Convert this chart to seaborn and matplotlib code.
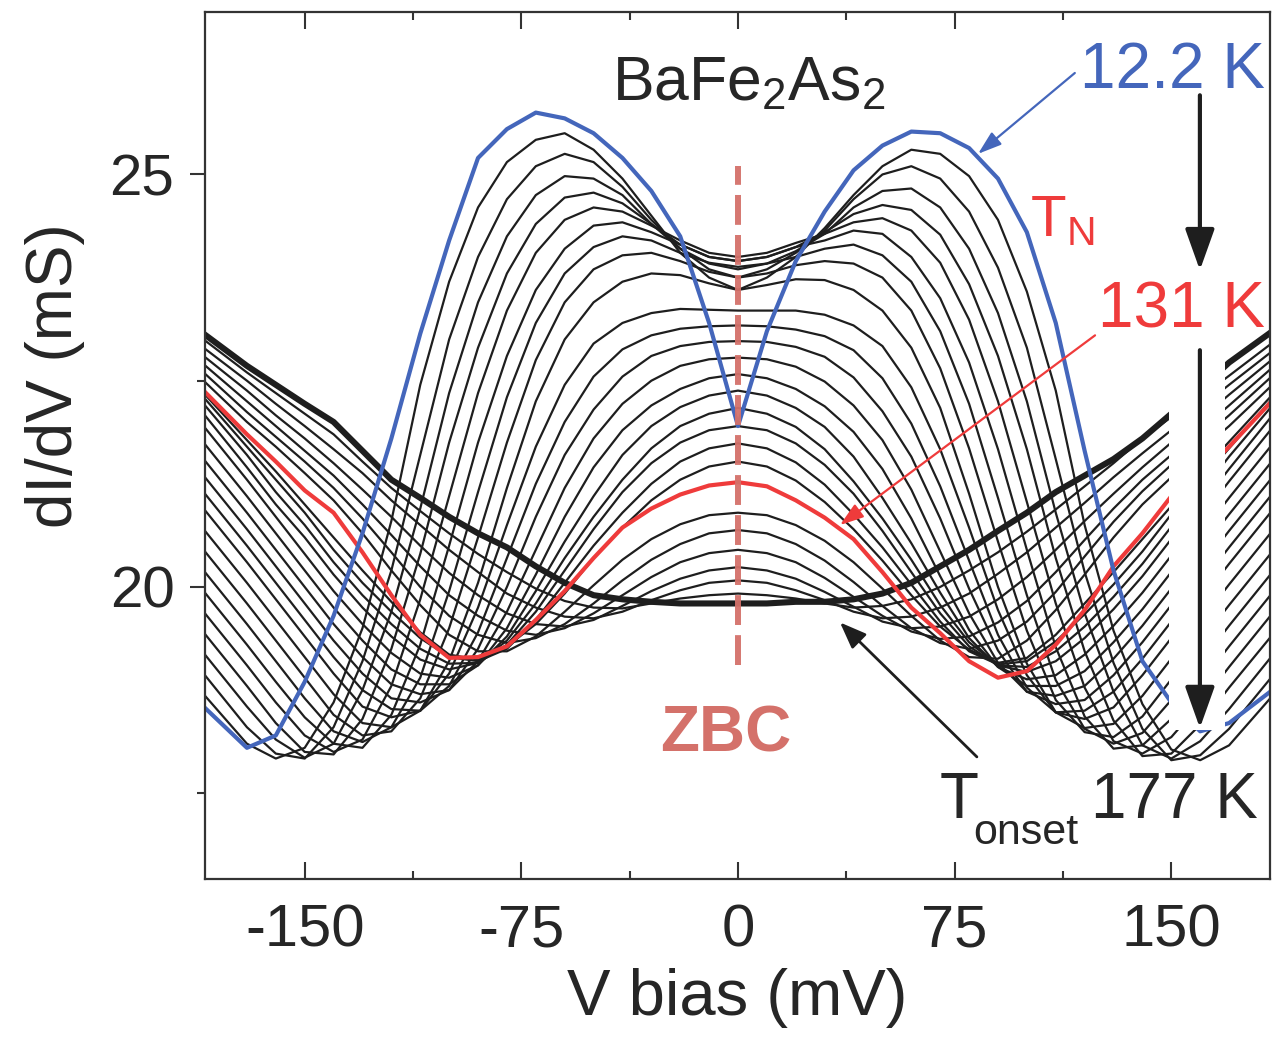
import matplotlib
matplotlib.use("Agg")
import matplotlib.pyplot as plt
import seaborn as sns
from matplotlib.patches import Rectangle

# ---------------- data ----------------
V_MV = [-185, -170, -160, -150, -140, -130, -120, -110, -100, -90, -80, -70, -60, -50, -40, -30, -20, -10,
        0, 10, 20, 30, 40, 50, 60, 70, 80, 90, 100, 110, 120, 130, 140, 150, 160, 170, 185]

blue_12K = [18.55, 18.05, 18.2, 18.85, 19.65, 20.65, 21.8, 23.07, 24.2, 25.2, 25.55, 25.75, 25.68, 25.5, 25.2, 24.8, 24.25, 23.2,
            21.95, 23.1, 23.95, 24.55, 25.05, 25.35, 25.52, 25.5, 25.32, 24.95, 24.3, 23.2, 21.65, 20.2, 19.1, 18.6, 18.25, 18.35, 18.75]

red_131K = [22.38, 21.85, 21.52, 21.17, 20.9, 20.42, 19.9, 19.42, 19.14, 19.15, 19.28, 19.6, 19.95, 20.35, 20.72, 20.95, 21.12, 21.23,
            21.27, 21.22, 21.05, 20.84, 20.58, 20.18, 19.75, 19.44, 19.1, 18.9, 18.98, 19.3, 19.72, 20.25, 20.65, 21.1, 21.35, 21.7, 22.26]

onset_177K = [23.07, 22.68, 22.45, 22.22, 22.0, 21.65, 21.3, 21.08, 20.85, 20.65, 20.48, 20.25, 20.05, 19.9, 19.85, 19.82, 19.8, 19.8,
              19.8, 19.8, 19.82, 19.82, 19.85, 19.92, 20.05, 20.25, 20.45, 20.68, 20.9, 21.15, 21.35, 21.55, 21.8, 22.1, 22.4, 22.72, 23.1]

# black curves between 12.2 K and 131 K
k01 = [18.7, 18.1, 17.92, 18.05, 18.6, 19.5, 20.8, 22.45, 23.7, 24.6, 25.15, 25.42, 25.5, 25.3, 24.95, 24.5, 24.05, 23.75,
       23.6, 23.75, 24.0, 24.35, 24.75, 25.1, 25.3, 25.25, 24.98, 24.45, 23.58, 22.38, 20.75, 19.47, 18.58, 18.03, 17.9, 18.08, 18.68]
k02 = [18.95, 18.3, 17.98, 17.92, 18.3, 19.1, 20.2, 21.6, 23.0, 24.0, 24.7, 25.1, 25.25, 25.15, 24.85, 24.45, 24.1, 23.85,
       23.75, 23.85, 24.05, 24.32, 24.7, 25.0, 25.1, 24.95, 24.55, 23.87, 22.9, 21.55, 20.18, 19.08, 18.28, 17.9, 17.96, 18.28, 18.92]
k03 = [19.2, 18.55, 18.15, 17.93, 18.1, 18.75, 19.7, 20.95, 22.35, 23.45, 24.25, 24.75, 24.98, 24.95, 24.75, 24.4, 24.1, 23.92,
       23.85, 23.92, 24.07, 24.28, 24.6, 24.8, 24.83, 24.6, 24.1, 23.32, 22.25, 20.9, 19.68, 18.73, 18.08, 17.92, 18.13, 18.52, 19.17]
k04 = [19.45, 18.8, 18.35, 18.0, 17.97, 18.4, 19.25, 20.4, 21.75, 22.9, 23.8, 24.4, 24.72, 24.78, 24.65, 24.4, 24.15, 24.0,
       23.95, 24.0, 24.12, 24.3, 24.52, 24.63, 24.57, 24.27, 23.67, 22.8, 21.67, 20.35, 19.22, 18.38, 17.95, 17.98, 18.33, 18.78, 19.42]
k05 = [19.7, 19.05, 18.6, 18.2, 18.0, 18.15, 18.8, 19.85, 21.1, 22.35, 23.35, 24.05, 24.45, 24.6, 24.55, 24.38, 24.2, 24.05,
       24.0, 24.05, 24.17, 24.28, 24.42, 24.47, 24.32, 23.93, 23.24, 22.25, 21.03, 19.8, 18.78, 18.13, 17.98, 18.18, 18.58, 19.03, 19.68]
k06 = [19.95, 19.3, 18.85, 18.42, 18.1, 18.05, 18.45, 19.3, 20.5, 21.75, 22.8, 23.6, 24.1, 24.38, 24.42, 24.3, 24.15, 24.0,
       23.95, 24.0, 24.12, 24.2, 24.32, 24.28, 24.0, 23.5, 22.72, 21.67, 20.45, 19.27, 18.43, 18.04, 18.08, 18.4, 18.83, 19.28, 19.93]
k07 = [20.2, 19.55, 19.1, 18.65, 18.25, 18.12, 18.3, 18.9, 19.95, 21.15, 22.3, 23.2, 23.8, 24.12, 24.25, 24.2, 24.05, 23.93,
       23.88, 23.92, 24.0, 24.1, 24.15, 24.02, 23.7, 23.1, 22.22, 21.08, 19.9, 18.87, 18.28, 18.1, 18.23, 18.63, 19.08, 19.53, 20.18]
k08 = [20.45, 19.8, 19.35, 18.9, 18.45, 18.2, 18.25, 18.65, 19.5, 20.6, 21.75, 22.75, 23.45, 23.85, 24.02, 24.05, 23.95, 23.82,
       23.75, 23.8, 23.9, 23.95, 23.92, 23.75, 23.35, 22.65, 21.68, 20.55, 19.47, 18.63, 18.24, 18.18, 18.43, 18.88, 19.33, 19.78, 20.43]
k09 = [20.7, 20.05, 19.6, 19.15, 18.7, 18.35, 18.3, 18.5, 19.1, 20.05, 21.2, 22.25, 23.0, 23.45, 23.7, 23.8, 23.78, 23.68,
       23.6, 23.66, 23.73, 23.72, 23.6, 23.35, 22.9, 22.17, 21.13, 20.0, 19.07, 18.48, 18.29, 18.34, 18.68, 19.13, 19.58, 20.03, 20.68]
k10 = [20.95, 20.3, 19.85, 19.4, 18.95, 18.55, 18.42, 18.5, 18.95, 19.75, 20.75, 21.7, 22.45, 22.95, 23.2, 23.32, 23.37, 23.36,
       23.35, 23.35, 23.35, 23.3, 23.17, 22.92, 22.42, 21.67, 20.72, 19.72, 18.93, 18.48, 18.4, 18.54, 18.93, 19.38, 19.83, 20.28, 20.93]
k11 = [21.15, 20.5, 20.05, 19.6, 19.15, 18.75, 18.52, 18.5, 18.8, 19.45, 20.35, 21.25, 22.0, 22.55, 22.88, 23.05, 23.13, 23.16,
       23.17, 23.16, 23.12, 23.04, 22.87, 22.53, 21.98, 21.22, 20.32, 19.42, 18.78, 18.48, 18.5, 18.73, 19.13, 19.58, 20.03, 20.48, 21.13]
k12 = [21.35, 20.7, 20.25, 19.8, 19.35, 18.95, 18.65, 18.6, 18.75, 19.25, 20.0, 20.85, 21.6, 22.15, 22.55, 22.8, 22.92, 22.97,
       22.98, 22.97, 22.91, 22.79, 22.54, 22.13, 21.58, 20.83, 19.98, 19.23, 18.73, 18.58, 18.63, 18.93, 19.33, 19.78, 20.23, 20.68, 21.33]
k13 = [21.55, 20.9, 20.45, 20.0, 19.55, 19.15, 18.82, 18.7, 18.75, 19.1, 19.7, 20.45, 21.2, 21.8, 22.22, 22.5, 22.68, 22.76,
       22.78, 22.76, 22.67, 22.49, 22.2, 21.78, 21.18, 20.43, 19.68, 19.08, 18.73, 18.68, 18.8, 19.13, 19.53, 19.98, 20.43, 20.88, 21.53]
k14 = [21.75, 21.1, 20.65, 20.2, 19.75, 19.35, 19.0, 18.82, 18.82, 19.05, 19.5, 20.15, 20.85, 21.45, 21.9, 22.2, 22.4, 22.53,
       22.58, 22.53, 22.4, 22.19, 21.88, 21.43, 20.83, 20.13, 19.48, 19.03, 18.8, 18.8, 18.98, 19.33, 19.73, 20.18, 20.63, 21.08, 21.73]
k15 = [21.95, 21.3, 20.85, 20.4, 19.95, 19.55, 19.2, 18.95, 18.9, 19.05, 19.4, 19.95, 20.55, 21.1, 21.6, 21.95, 22.18, 22.32,
       22.38, 22.32, 22.17, 21.94, 21.58, 21.08, 20.53, 19.93, 19.38, 19.03, 18.88, 18.93, 19.18, 19.53, 19.93, 20.38, 20.83, 21.28, 21.93]
k16 = [22.1, 21.45, 21.0, 20.6, 20.15, 19.75, 19.4, 19.12, 19.0, 19.08, 19.35, 19.8, 20.35, 20.85, 21.3, 21.68, 21.95, 22.1,
       22.17, 22.1, 21.94, 21.67, 21.28, 20.83, 20.33, 19.78, 19.33, 19.05, 18.97, 19.1, 19.38, 19.73, 20.13, 20.58, 20.98, 21.43, 22.08]
k17 = [22.22, 21.6, 21.15, 20.75, 20.3, 19.9, 19.55, 19.25, 19.07, 19.08, 19.3, 19.7, 20.2, 20.7, 21.15, 21.5, 21.75, 21.9,
       21.95, 21.9, 21.74, 21.48, 21.13, 20.68, 20.18, 19.68, 19.28, 19.05, 19.03, 19.22, 19.52, 19.88, 20.28, 20.73, 21.13, 21.58, 22.2]
k18 = [22.3, 21.7, 21.3, 20.9, 20.45, 20.05, 19.7, 19.38, 19.15, 19.1, 19.25, 19.6, 20.05, 20.5, 20.9, 21.25, 21.52, 21.68,
       21.74, 21.68, 21.51, 21.24, 20.88, 20.48, 20.03, 19.58, 19.22, 19.06, 19.1, 19.34, 19.67, 20.03, 20.43, 20.88, 21.28, 21.68, 22.28]
k19 = [22.35, 21.78, 21.4, 21.0, 20.6, 20.2, 19.82, 19.45, 19.18, 19.12, 19.28, 19.55, 19.92, 20.35, 20.72, 21.05, 21.3, 21.46,
       21.52, 21.46, 21.29, 21.03, 20.7, 20.32, 19.9, 19.52, 19.24, 19.08, 19.14, 19.42, 19.8, 20.18, 20.58, 20.98, 21.38, 21.76, 22.33]

# black curves between 131 K and 177 K
h01 = [22.5, 22.0, 21.7, 21.38, 21.05, 20.65, 20.2, 19.78, 19.42, 19.22, 19.22, 19.4, 19.7, 20.02, 20.33, 20.58, 20.76, 20.87,
       20.9, 20.87, 20.75, 20.56, 20.3, 19.98, 19.65, 19.35, 19.15, 19.13, 19.35, 19.72, 20.15, 20.6, 21.0, 21.33, 21.65, 21.95, 22.45]
h02 = [22.6, 22.12, 21.82, 21.52, 21.2, 20.83, 20.42, 20.0, 19.65, 19.42, 19.32, 19.38, 19.55, 19.8, 20.08, 20.33, 20.52, 20.65,
       20.69, 20.65, 20.52, 20.32, 20.06, 19.77, 19.5, 19.32, 19.25, 19.35, 19.58, 19.94, 20.37, 20.79, 21.16, 21.48, 21.78, 22.08, 22.56]
h03 = [22.7, 22.25, 21.95, 21.65, 21.35, 21.0, 20.63, 20.25, 19.9, 19.65, 19.47, 19.42, 19.5, 19.68, 19.9, 20.12, 20.3, 20.41,
       20.45, 20.41, 20.3, 20.11, 19.88, 19.65, 19.46, 19.37, 19.4, 19.57, 19.83, 20.18, 20.57, 20.95, 21.3, 21.6, 21.9, 22.2, 22.66]
h04 = [22.8, 22.38, 22.08, 21.8, 21.5, 21.18, 20.85, 20.5, 20.17, 19.9, 19.68, 19.55, 19.52, 19.6, 19.77, 19.95, 20.1, 20.2,
       20.24, 20.2, 20.1, 19.94, 19.76, 19.58, 19.5, 19.52, 19.64, 19.85, 20.12, 20.45, 20.8, 21.13, 21.45, 21.75, 22.03, 22.33, 22.76]
h05 = [22.9, 22.5, 22.22, 21.95, 21.67, 21.38, 21.05, 20.75, 20.45, 20.18, 19.92, 19.75, 19.64, 19.62, 19.7, 19.84, 19.96, 20.05,
       20.08, 20.05, 19.96, 19.84, 19.7, 19.62, 19.64, 19.75, 19.92, 20.16, 20.42, 20.72, 21.02, 21.33, 21.62, 21.9, 22.17, 22.45, 22.86]
h06 = [23.0, 22.6, 22.35, 22.1, 21.85, 21.52, 21.2, 20.92, 20.65, 20.4, 20.18, 19.98, 19.83, 19.75, 19.74, 19.8, 19.86, 19.9,
       19.92, 19.9, 19.86, 19.8, 19.75, 19.77, 19.85, 20.0, 20.2, 20.42, 20.67, 20.94, 21.22, 21.5, 21.8, 22.06, 22.3, 22.56, 22.96]

black_curves = [k01, k02, k03, k04, k05, k06, k07, k08, k09, k10, k11, k12, k13, k14, k15, k16, k17, k18, k19,
                h01, h02, h03, h04, h05, h06]

x_ticks = [-150, -75, 0, 75, 150]
x_minor = [-112.5, -37.5, 37.5, 112.5]
y_ticks = [20, 25]
y_minor = [17.5, 22.5]

zbc_v = 0
zbc_span = [19.06, 25.1]
gap_v = [149.3, 168.6]     # blank strip where the T arrow sits
gap_bottom = 18.27

BLUE = "#4466bb"
RED = "#ef3b3b"
BLACK = "#1e1e1e"
ZBC_C = "#d4716a"
TXT = "#262626"

# ---------------- style ----------------
sns.set_style("ticks")
plt.rcParams["font.family"] = ["Liberation Sans", "DejaVu Sans"]
plt.rcParams["mathtext.fontset"] = "custom"
plt.rcParams["mathtext.rm"] = "Liberation Sans"
plt.rcParams["mathtext.it"] = "Liberation Sans:italic"
plt.rcParams["mathtext.bf"] = "Liberation Sans:bold"
plt.rcParams["axes.unicode_minus"] = False

fig = plt.figure(figsize=(12.72, 10.39), dpi=100)
ax = fig.add_axes([0.1612, 0.1540, 0.8373, 0.8345])

for vals in black_curves:
    sns.lineplot(x=V_MV, y=vals, ax=ax, color=BLACK, linewidth=1.6, sort=False, estimator=None, zorder=2)
sns.lineplot(x=V_MV, y=onset_177K, ax=ax, color=BLACK, linewidth=4.4, sort=False, estimator=None, zorder=2.2)
sns.lineplot(x=V_MV, y=red_131K, ax=ax, color=RED, linewidth=3.0, sort=False, estimator=None, zorder=3)
sns.lineplot(x=V_MV, y=blue_12K, ax=ax, color=BLUE, linewidth=3.0, sort=False, estimator=None, zorder=3)

# zero-bias conductance marker
ax.plot([zbc_v, zbc_v], zbc_span, color=ZBC_C, lw=4.3, dashes=(5.0, 1.7), zorder=3.5, alpha=0.95)

# blank strip for the temperature arrow
ax.add_patch(Rectangle((gap_v[0], gap_bottom), gap_v[1] - gap_v[0], 12, facecolor="white",
                       edgecolor="none", zorder=4))

ax.set_xlim(-184.5, 184.2)
ax.set_ylim(16.46, 26.97)

ax.set_xticks(x_ticks)
ax.set_xticks(x_minor, minor=True)
ax.set_yticks(y_ticks)
ax.set_yticks(y_minor, minor=True)
ax.tick_params(axis="x", which="both", direction="in", top=True, bottom=True, width=1.5,
               color="#333333", labelsize=43, pad=18, labelcolor=TXT)
ax.tick_params(axis="x", which="major", length=12)
ax.tick_params(axis="x", which="minor", length=6)
ax.tick_params(axis="y", which="both", direction="out", left=True, right=False, width=1.5,
               color="#333333", labelsize=42, pad=11, labelcolor=TXT)
ax.tick_params(axis="y", which="major", length=11)
ax.tick_params(axis="y", which="minor", length=6)
for s in ax.spines.values():
    s.set_visible(True)
    s.set_linewidth(1.6)
    s.set_color("#333333")
    s.set_zorder(7)

ax.set_xlabel("V bias (mV)", fontsize=47, color=TXT)
ax.xaxis.set_label_coords(0.5, -0.103)
ax.set_ylabel("dI/dV (mS)", fontsize=46, color=TXT)
ax.yaxis.set_label_coords(-0.113, 0.581)

# ---------------- annotations ----------------
ax.text(-43.6, 25.9, r"BaFe$_\mathregular{2}$As$_\mathregular{2}$", fontsize=45, color=TXT,
        ha="left", va="baseline", zorder=6)
ax.text(182.4, 26.05, "12.2 K", fontsize=46, color=BLUE, ha="right", va="baseline", zorder=6)
ax.text(101.1, 24.26, r"T$_\mathregular{N}$", fontsize=42, color=RED, ha="left", va="baseline", zorder=6)
ax.text(182.4, 23.15, "131 K", fontsize=46, color=RED, ha="right", va="baseline", zorder=6)
ax.text(69.9, 17.2, "T", fontsize=46, color=TXT, ha="left", va="baseline", zorder=6)
ax.text(81.6, 16.88, "onset", fontsize=31, color=TXT, ha="left", va="baseline", zorder=6)
ax.text(180.0, 17.2, "177 K", fontsize=46, color=TXT, ha="right", va="baseline", zorder=6)
ax.text(-4.2, 18.21, "ZBC", fontsize=46, fontweight="bold", color=ZBC_C, ha="center", va="center", zorder=6)

def arrow(tail, tip, color, lw, hl, hw, ms):
    ax.annotate("", xy=tip, xytext=tail, zorder=6,
                arrowprops=dict(arrowstyle=f"-|>,head_length={hl},head_width={hw}", color=color,
                                lw=lw, mutation_scale=ms, shrinkA=0, shrinkB=0))

arrow((116.6, 26.23), (83.1, 25.25), BLUE, 1.6, 0.9, 0.3, 16)
arrow((123.6, 23.05), (35.3, 20.75), RED, 1.6, 0.9, 0.3, 16)
arrow((82.7, 17.94), (35.3, 19.57), BLACK, 2.0, 0.9, 0.35, 18)
arrow((159.9, 25.96), (159.9, 23.84), BLACK, 3.0, 1.4, 0.5, 18)
arrow((159.9, 22.87), (159.9, 18.29), BLACK, 3.0, 1.4, 0.5, 18)

fig.savefig("out.png", dpi=100)
